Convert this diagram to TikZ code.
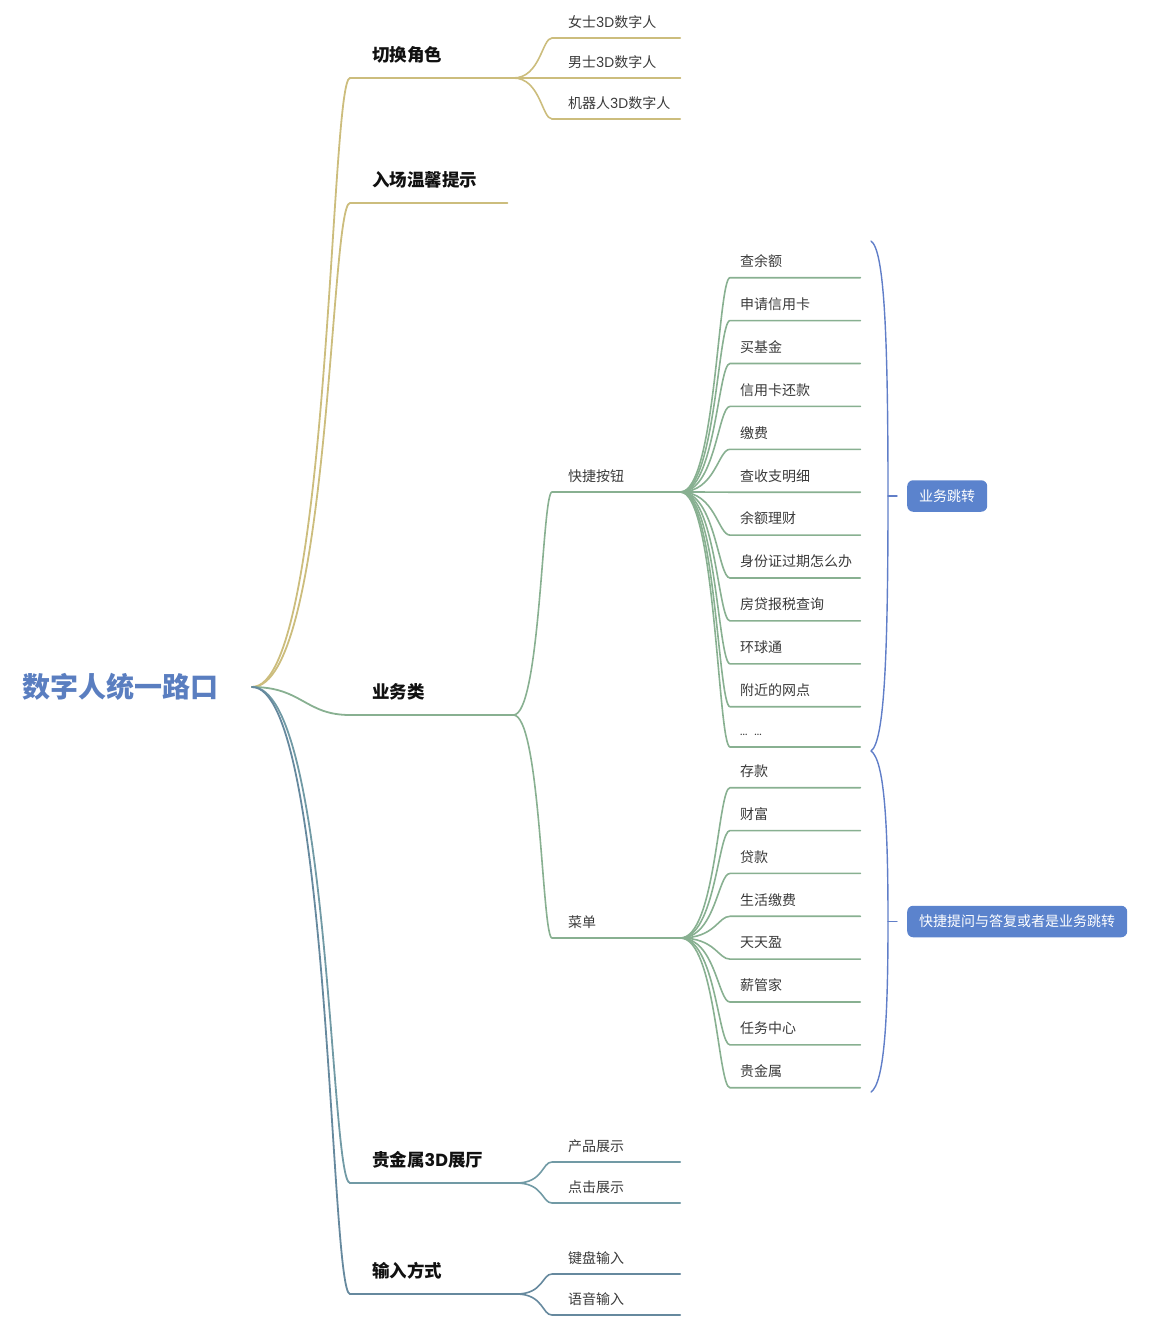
\documentclass[tikz,border=0pt]{standalone}
\usepackage{fontspec}
\setmainfont{Noto Sans CJK SC}
\newfontfamily\lat{Poppins}
\definecolor{yel}{RGB}{204,189,125}
\definecolor{grn}{RGB}{136,176,145}
\definecolor{tea}{RGB}{113,154,165}
\definecolor{sla}{RGB}{102,137,158}
\definecolor{rootc}{RGB}{90,126,192}
\definecolor{boxc}{RGB}{91,131,205}
\definecolor{brc}{RGB}{96,126,200}
\definecolor{txa}{RGB}{17,17,17}
\definecolor{txb}{RGB}{58,58,58}
\tikzset{
  rootn/.style={anchor=west, inner sep=0pt, text=rootc, font=\fontsize{28}{32}\selectfont\bfseries},
  tone/.style={anchor=south west, inner xsep=0pt, inner ysep=16pt, text depth=0pt, text width=#1, align=left, text=txa, font=\fontsize{17.5}{20}\selectfont\bfseries},
  ttwo/.style={anchor=south west, inner xsep=0pt, inner ysep=10.5pt, text depth=0pt, text width=#1, align=left, text=txb, font=\fontsize{14}{16}\selectfont},
  tthree/.style={anchor=south west, inner xsep=0pt, inner ysep=11pt, text depth=0pt, text width=#1, align=left, text=txb, font=\fontsize{14}{16}\selectfont},
  lineA/.style={draw=#1, line width=1.8pt, line cap=round},
  lineB/.style={draw=#1, line width=1.6pt, line cap=round},
  bracel/.style={draw=brc, line width=1.4pt, line cap=round},
  boxn/.style={anchor=west, fill=boxc, rounded corners=6pt, text=white, inner xsep=12pt, inner ysep=0pt, minimum height=31.5pt, text height=12pt, text depth=1.5pt, font=\fontsize{14}{16}\selectfont}
}
\begin{document}
\begin{tikzpicture}[x=1pt,y=-1pt]
\useasboundingbox (0,0) rectangle (1168,1332);

% root
\node[rootn] (root) at (22,687) {数字人统一路口};
\coordinate (rootout) at (252,687);

% level 1
\node[tone=163pt] (k1) at (350,78) {\noindent\hspace*{22pt}切换角色};
\node[tone=157pt] (k2) at (350,203) {\noindent\hspace*{22pt}入场温馨提示};
\node[tone=163pt] (k3) at (350,715) {\noindent\hspace*{22pt}业务类};
\node[tone=166pt] (k4) at (350,1183) {\noindent\hspace*{22pt}贵金属{\lat\bfseries 3D}展厅};
\node[tone=166pt] (k5) at (350,1294) {\noindent\hspace*{22pt}输入方式};

% level 2
\node[ttwo=128pt] (a1) at (552,38) {\noindent\hspace*{16pt}女士{\lat 3D}数字人};
\node[ttwo=128pt] (a2) at (552,78) {\noindent\hspace*{16pt}男士{\lat 3D}数字人};
\node[ttwo=128pt] (a3) at (552,119) {\noindent\hspace*{16pt}机器人{\lat 3D}数字人};
\node[ttwo=128pt] (b1) at (552,492) {\noindent\hspace*{16pt}快捷按钮};
\node[ttwo=128pt] (b2) at (552,938) {\noindent\hspace*{16pt}菜单};
\node[ttwo=128pt] (c1) at (552,1162) {\noindent\hspace*{16pt}产品展示};
\node[ttwo=128pt] (c2) at (552,1203) {\noindent\hspace*{16pt}点击展示};
\node[ttwo=128pt] (d1) at (552,1274) {\noindent\hspace*{16pt}键盘输入};
\node[ttwo=128pt] (d2) at (552,1315) {\noindent\hspace*{16pt}语音输入};

% level 3 under 快捷按钮
\foreach \t [count=\i] in {查余额,申请信用卡,买基金,信用卡还款,缴费,查收支明细,余额理财,身份证过期怎么办,房贷报税查询,环球通,附近的网点}{
  \node[tthree=130pt] (q\i) at (730,{277.7+42.9*(\i-1)}) {\noindent\hspace*{10pt}\t};
}
\node[tthree=130pt] (q12) at (730,747) {\noindent\hspace*{10pt}{\lat\fontsize{11.5}{13}\selectfont ... ...}};

% level 3 under 菜单
\foreach \t [count=\i] in {存款,财富,贷款,生活缴费,天天盈,薪管家,任务中心,贵金属}{
  \node[tthree=130pt] (m\i) at (730,{787.7+42.86*(\i-1)}) {\noindent\hspace*{10pt}\t};
}

% root connectors
\draw[lineA=yel] (rootout) .. controls +(78,0) and +(-20,0) .. (k1.south west) -- (k1.south east);
\draw[lineA=yel] (rootout) .. controls +(78,0) and +(-20,0) .. (k2.south west) -- (k2.south east);
\draw[lineA=grn] (rootout) .. controls +(50,0) and +(-45,0) .. (k3.south west) -- (k3.south east);
\draw[lineA=tea] (rootout) .. controls +(78,0) and +(-20,0) .. (k4.south west) -- (k4.south east);
\draw[lineA=sla] (rootout) .. controls +(78,0) and +(-20,0) .. (k5.south west) -- (k5.south east);

% level 1 -> level 2
\foreach \c in {a1,a2,a3}{
  \draw[lineB=yel] (k1.south east) .. controls +(27,0) and +(-10,0) .. (\c.south west) -- (\c.south east);
}
\foreach \c in {b1,b2}{
  \draw[lineB=grn] (k3.south east) .. controls +(27,0) and +(-10,0) .. (\c.south west) -- (\c.south east);
}
\foreach \c in {c1,c2}{
  \draw[lineB=tea] (k4.south east) .. controls +(27,0) and +(-10,0) .. (\c.south west) -- (\c.south east);
}
\foreach \c in {d1,d2}{
  \draw[lineB=sla] (k5.south east) .. controls +(27,0) and +(-10,0) .. (\c.south west) -- (\c.south east);
}

% level 2 -> level 3
\foreach \i in {1,...,12}{
  \draw[lineB=grn] (b1.south east) .. controls +(35,0) and +(-12,0) .. (q\i.south west) -- (q\i.south east);
}
\foreach \i in {1,...,8}{
  \draw[lineB=grn] (b2.south east) .. controls +(35,0) and +(-12,0) .. (m\i.south west) -- (m\i.south east);
}

% braces
\coordinate (br1t) at (871,241);
\coordinate (br1m) at (888,496);
\coordinate (br1b) at (871,751);
\coordinate (br2m) at (888,921.5);
\coordinate (br2b) at (871,1092);
\draw[bracel] (br1t) .. controls (884,250) and (888,330) .. (br1m) .. controls (888,662) and (884,742) .. (br1b);
\draw[bracel] (br1b) .. controls (884,760) and (888,820) .. (br2m) .. controls (888,1023) and (884,1083) .. (br2b);

% boxes
\node[boxn] (bx1) at (907,496) {业务跳转};
\node[boxn] (bx2) at (907,921.5) {快捷提问与答复或者是业务跳转};
\draw[bracel, shorten >=10pt] (br1m) -- (bx1.west);
\draw[bracel, shorten >=10pt] (br2m) -- (bx2.west);
\end{tikzpicture}
\end{document}
